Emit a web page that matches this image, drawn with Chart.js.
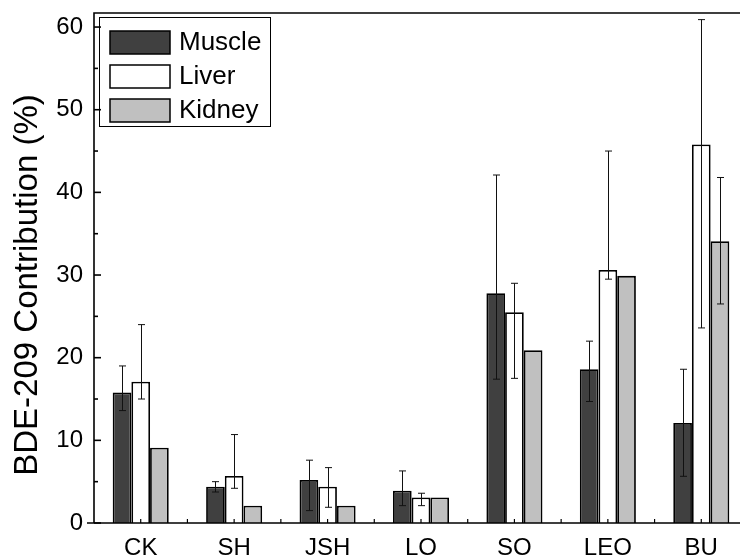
<!DOCTYPE html>
<html>
<head>
<meta charset="utf-8">
<script src="https://cdn.jsdelivr.net/npm/chart.js@4.4.0/dist/chart.umd.min.js"></script>
<style>
  html, body { margin: 0; padding: 0; overflow: hidden; background: #fff; }
  #wrap { width: 748px; height: 559px; }
</style>
</head>
<body>
<div id="wrap"><canvas id="bde-chart"></canvas></div>
<script>
'use strict';

var CATEGORIES = ['CK', 'SH', 'JSH', 'LO', 'SO', 'LEO', 'BU'];
var MUSCLE = [15.8, 4.4, 5.2, 3.9, 27.8, 18.6, 12.1];
var LIVER = [17.1, 5.7, 4.4, 3.1, 25.5, 30.6, 45.8];
var KIDNEY = [9.1, 2.1, 2.1, 3.1, 20.9, 29.9, 34.1];
// error bar ends (null = no error bar)
var MUSCLE_LOW = [13.6, 3.75, 1.5, 2.1, 17.4, 14.7, 5.65];
var MUSCLE_HIGH = [19.0, 5.0, 7.6, 6.3, 42.1, 22.0, 18.6];
var LIVER_LOW = [15.0, 4.2, 1.9, 2.1, 17.5, 29.5, 23.6];
var LIVER_HIGH = [24.0, 10.7, 6.7, 3.6, 29.0, 45.0, 60.9];
var KIDNEY_LOW = [null, null, null, null, null, null, 26.5];
var KIDNEY_HIGH = [null, null, null, null, null, null, 41.8];
var Y_TICKS = [0, 10, 20, 30, 40, 50, 60];
var Y_TITLE = 'BDE-209 Contribution (%)';

var FONT = '"Liberation Sans", Arial, Helvetica, sans-serif';

var errorBars = {
	id: 'errorBars',
	afterDatasetsDraw: function(chart) {
		var c = chart.ctx, ys = chart.scales.y;
		c.save();
		c.strokeStyle = '#111';
		c.lineWidth = 1;
		chart.data.datasets.forEach(function(ds, i) {
			var meta = chart.getDatasetMeta(i);
			meta.data.forEach(function(bar, j) {
				var lo = ds.errLow[j], hi = ds.errHigh[j];
				if (lo == null || hi == null) return;
				var x = Math.round(bar.x) + 0.5;
				var y1 = ys.getPixelForValue(lo), y2 = ys.getPixelForValue(hi);
				c.beginPath();
				c.moveTo(x, y1); c.lineTo(x, y2);
				c.moveTo(x - 3.5, y1); c.lineTo(x + 3.5, y1);
				c.moveTo(x - 3.5, y2); c.lineTo(x + 3.5, y2);
				c.stroke();
			});
		});
		c.restore();
	}
};

var frame = {
	id: 'frame',
	afterDraw: function(chart) {
		var c = chart.ctx, a = chart.chartArea, xs = chart.scales.x, ys = chart.scales.y;
		c.save();
		c.strokeStyle = '#000';
		c.lineWidth = 1.6;
		c.beginPath();
		c.moveTo(a.left - 7, a.bottom); c.lineTo(a.right, a.bottom);
		c.moveTo(a.left, a.bottom); c.lineTo(a.left, a.top);
		c.lineTo(a.right, a.top);
		c.stroke();

		// inward ticks on y, minor every 5
		for (var v = 0; v <= 60; v += 5) {
			var py = ys.getPixelForValue(v);
			var len = v % 10 === 0 ? 7 : 4;
			c.beginPath(); c.moveTo(a.left, py); c.lineTo(a.left + len, py); c.stroke();
		}
		// x ticks at centres and between groups
		c.lineWidth = 1.2;
		var half = (xs.getPixelForTick(1) - xs.getPixelForTick(0)) / 2;
		for (var i = 0; i < CATEGORIES.length; i++) {
			var px = xs.getPixelForTick(i);
			[px, px + half].forEach(function(tx) {
				c.beginPath(); c.moveTo(tx, a.bottom); c.lineTo(tx, a.bottom - 4); c.stroke();
			});
		}

		// y title
		c.fillStyle = '#000';
		c.font = '33px ' + FONT;
		c.textAlign = 'center';
		c.textBaseline = 'middle';
		c.translate(28, 285);
		c.rotate(-Math.PI / 2);
		c.fillText(Y_TITLE, 0, 0);
		c.setTransform(1, 0, 0, 1, 0, 0);

		// legend box
		c.lineWidth = 1;
		c.strokeRect(99.5, 17.5, 171, 109);
		c.font = '26px ' + FONT;
		c.textAlign = 'left';
		chart.data.datasets.forEach(function(ds, k) {
			var top = 31 + k * 34;
			c.fillStyle = ds.backgroundColor;
			c.fillRect(110, top, 60, 23);
			c.lineWidth = 1.5;
			c.strokeRect(110, top, 60, 23);
			c.fillStyle = '#000';
			c.fillText(ds.label, 179, top + 12);
		});
		c.restore();
	}
};

var ctx = document.getElementById('bde-chart').getContext('2d');
new Chart(ctx, {
	type: 'bar',
	data: {
		labels: CATEGORIES,
		datasets: [
			{ label: 'Muscle', data: MUSCLE, backgroundColor: '#404040', errLow: MUSCLE_LOW, errHigh: MUSCLE_HIGH },
			{ label: 'Liver', data: LIVER, backgroundColor: '#ffffff', errLow: LIVER_LOW, errHigh: LIVER_HIGH },
			{ label: 'Kidney', data: KIDNEY, backgroundColor: '#c0c0c0', errLow: KIDNEY_LOW, errHigh: KIDNEY_HIGH }
		]
	},
	options: {
		responsive: true,
		maintainAspectRatio: false,
		animation: false,
		layout: { padding: { top: 13, left: 0, right: 0, bottom: 0 } },
		datasets: {
			bar: {
				borderColor: '#000',
				borderWidth: 1.8,
				categoryPercentage: 0.6,
				barPercentage: 1.0
			}
		},
		plugins: {
			legend: { display: false },
			tooltip: { enabled: false }
		},
		scales: {
			x: {
				grid: { display: false, drawTicks: false },
				border: { display: false },
				ticks: { color: '#000', padding: 11, font: { family: FONT, size: 24 } },
				afterFit: function(s) {
					s.height = 36;
					s.paddingLeft = 0;
					s.paddingRight = 0;
				}
			},
			y: {
				min: 0,
				max: 61.7,
				grid: { display: false, drawTicks: false },
				border: { display: false },
				afterBuildTicks: function(s) {
					s.ticks = Y_TICKS.map(function(v) { return { value: v }; });
				},
				ticks: { color: '#000', padding: 11, font: { family: FONT, size: 24 } },
				afterFit: function(s) {
					s.width = 94;
					s.paddingTop = 0;
					s.paddingBottom = 0;
				}
			}
		}
	},
	plugins: [errorBars, frame]
});
</script>
</body>
</html>
